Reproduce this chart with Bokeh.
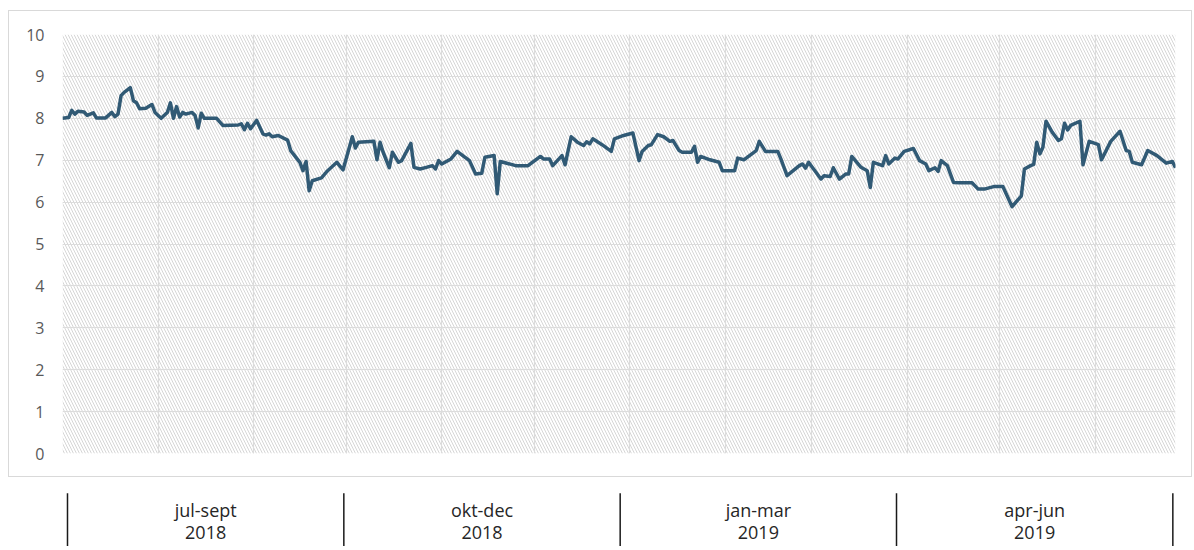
import pandas as pd
from bokeh.plotting import figure
from bokeh.models import Range1d, BoxAnnotation, FixedTicker, MonthsTicker, LabelSet, ColumnDataSource
from bokeh.layouts import column
from bokeh.embed import file_html
from bokeh.resources import INLINE
from bokeh.core.properties import value

# ---------------- data ----------------
start_date = "2018-07-01"
day_offsets = [0, 2, 3, 4, 5, 7, 8, 10, 11, 14, 16, 17, 18, 19, 20, 22, 23, 24, 25, 27,
               29, 30, 32, 34, 35, 36, 37, 38, 39, 40, 42, 43, 44, 45, 46, 50, 52, 57, 58, 59,
               60, 61, 63, 65, 66, 67, 68, 70, 73, 74, 77, 78, 79, 80, 81, 84, 86, 89, 91, 94,
               95, 96, 101, 102, 103, 104, 106, 107, 109, 110, 113, 114, 116, 118, 120, 121, 122, 123, 126, 128,
               132, 134, 136, 137, 140, 141, 142, 147, 151, 155, 156, 158, 159, 162, 163, 165, 167, 169, 170, 171,
               172, 175, 178, 179, 182, 185, 187, 188, 190, 191, 193, 195, 197, 198, 200, 201, 204, 205, 206, 207,
               210, 213, 214, 218, 219, 221, 225, 226, 228, 232, 233, 235, 239, 240, 241, 242, 243, 246, 247, 249,
               250, 252, 254, 255, 256, 259, 261, 262, 263, 266, 267, 268, 270, 271, 273, 276, 278, 280, 281, 283,
               284, 285, 287, 289, 291, 295, 297, 299, 302, 305, 308, 311, 312, 314, 315, 316, 317, 318, 319, 321,
               323, 324, 325, 326, 327, 330, 331, 333, 336, 337, 340, 343, 345, 346, 347, 350, 352, 355, 358, 360,
               361]
rate = [8.00, 8.02, 8.19, 8.10, 8.17, 8.15, 8.07, 8.13, 8.01, 8.01, 8.14, 8.04, 8.10, 8.54, 8.62, 8.73, 8.42, 8.37, 8.23, 8.24,
        8.33, 8.14, 8.00, 8.14, 8.37, 8.00, 8.28, 8.03, 8.14, 8.10, 8.14, 8.07, 7.77, 8.12, 8.00, 8.00, 7.83, 7.84, 7.87, 7.73,
        7.88, 7.75, 7.95, 7.63, 7.60, 7.63, 7.56, 7.59, 7.48, 7.23, 6.95, 6.75, 6.97, 6.27, 6.51, 6.58, 6.75, 6.95, 6.77, 7.56,
        7.29, 7.43, 7.45, 7.01, 7.43, 7.19, 6.82, 7.19, 6.95, 6.99, 7.40, 6.83, 6.79, 6.83, 6.87, 6.79, 6.99, 6.91, 7.03, 7.21,
        6.99, 6.67, 6.69, 7.07, 7.11, 6.20, 6.97, 6.87, 6.87, 7.09, 7.03, 7.03, 6.87, 7.11, 6.89, 7.56, 7.43, 7.35, 7.44, 7.39,
        7.51, 7.37, 7.21, 7.51, 7.59, 7.65, 6.99, 7.21, 7.35, 7.37, 7.61, 7.56, 7.45, 7.47, 7.23, 7.19, 7.19, 7.33, 6.95, 7.09,
        7.01, 6.95, 6.75, 6.75, 7.05, 7.01, 7.23, 7.45, 7.21, 7.21, 7.03, 6.63, 6.87, 6.91, 6.81, 6.95, 6.85, 6.55, 6.63, 6.61,
        6.82, 6.55, 6.67, 6.67, 7.09, 6.83, 6.75, 6.35, 6.95, 6.87, 7.11, 6.91, 7.05, 7.03, 7.21, 7.28, 6.99, 6.91, 6.75, 6.82,
        6.73, 6.99, 6.87, 6.47, 6.46, 6.46, 6.31, 6.31, 6.37, 6.37, 5.89, 6.15, 6.79, 6.87, 6.90, 7.43, 7.15, 7.31, 7.93, 7.67,
        7.47, 7.51, 7.88, 7.72, 7.83, 7.93, 6.89, 7.45, 7.37, 7.01, 7.45, 7.69, 7.23, 7.21, 6.95, 6.89, 7.23, 7.11, 6.93, 6.97,
        6.82]
quarter_labels = ["jul-sept", "okt-dec", "jan-mar", "apr-jun"]
year_labels = ["2018", "2018", "2019", "2019"]
y_ticks = list(range(0, 11))

dates = pd.Timestamp(start_date) + pd.to_timedelta(day_offsets, unit="D")

# ---------------- main chart ----------------
top = figure(width=1184, height=467, x_axis_type="datetime",
             x_range=Range1d(dates[0], dates[-1]), y_range=Range1d(0, 10),
             output_backend="svg", toolbar_location=None,
             min_border_left=53, min_border_right=18, min_border_top=23, min_border_bottom=25)
top.styles = {"border": "1px solid #d9d9d9", "margin-left": "8px", "margin-top": "10px"}
top.outline_line_color = None
top.background_fill_color = "white"
top.border_fill_color = "white"

hatch = BoxAnnotation(fill_color="white", fill_alpha=1.0, line_color=None,
                      hatch_pattern="\\", hatch_color="#d6d6d6", hatch_scale=6,
                      hatch_weight=1, level="image")
top.add_layout(hatch)

top.line(dates, rate, line_color="#315a75", line_width=3.5, line_join="round")

top.xaxis.visible = False
top.xgrid.ticker = MonthsTicker(months=list(range(12)))
top.xgrid.grid_line_color = "#dcdcdc"
top.xgrid.grid_line_width = 1.2
top.ygrid.ticker = FixedTicker(ticks=y_ticks)
top.ygrid.grid_line_color = "#dcdcdc"
top.ygrid.grid_line_width = 1.2

top.yaxis.ticker = FixedTicker(ticks=y_ticks)
top.yaxis.axis_line_color = None
top.yaxis.major_tick_line_color = None
top.yaxis.minor_tick_line_color = None
top.yaxis.major_tick_out = 0
top.yaxis.major_label_standoff = 18
top.yaxis.major_label_text_font = "Open Sans"
top.yaxis.major_label_text_font_size = "16px"
top.yaxis.major_label_text_color = "#595959"

# ---------------- category band below ----------------
n = len(quarter_labels)
sep_x = list(range(n + 1))
mid_x = [i + 0.5 for i in range(n)]

bottom = figure(width=1184, height=69, x_range=Range1d(-0.0217, n + 0.006), y_range=Range1d(0, 1),
                x_axis_type=None, y_axis_type=None,
                output_backend="svg", toolbar_location=None,
                min_border_left=46, min_border_right=0, min_border_top=0, min_border_bottom=0)
bottom.styles = {"margin-left": "8px"}
bottom.outline_line_color = None
bottom.grid.visible = False
bottom.segment(x0=sep_x, y0=[0] * (n + 1), x1=sep_x, y1=[0.77] * (n + 1),
               line_color="#1a1a1a", line_width=1.5)

lab_src = ColumnDataSource(dict(x=mid_x, q=quarter_labels, yr=year_labels,
                                yq=[0.53] * n, yy=[0.2] * n))
bottom.add_layout(LabelSet(x="x", y="yq", text="q", source=lab_src, text_align="center",
                           text_baseline="middle", text_font=value("Open Sans"), text_font_size="18px",
                           text_color="#262626"))
bottom.add_layout(LabelSet(x="x", y="yy", text="yr", source=lab_src, text_align="center",
                           text_baseline="middle", text_font=value("Open Sans"), text_font_size="18px",
                           text_color="#262626"))

layout = column(top, bottom, spacing=0)
open("out.html", "w").write(file_html(layout, INLINE))
